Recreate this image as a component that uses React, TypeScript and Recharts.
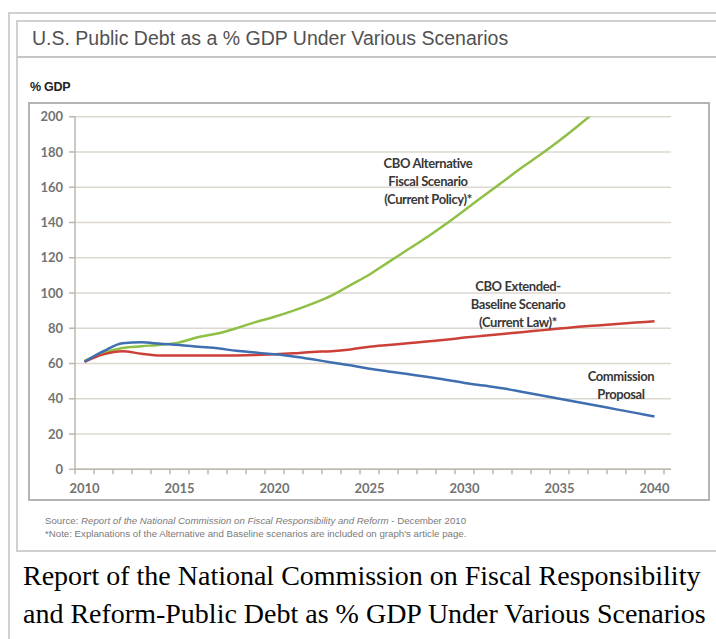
import React from "react";
import { LineChart, Line, XAxis, YAxis, CartesianGrid } from "recharts";

// years on the x axis, one point per year
const YEARS = [
  2010, 2011, 2012, 2013, 2014, 2015, 2016, 2017, 2018, 2019, 2020, 2021,
  2022, 2023, 2024, 2025, 2026, 2027, 2028, 2029, 2030, 2031, 2032, 2033,
  2034, 2035, 2036, 2037, 2038, 2039, 2040,
];

// CBO Alternative Fiscal Scenario (Current Policy) - runs off the top after 2036
const ALTERNATIVE = [
  61.5, 66, 68.8, 69.8, 70.7, 72, 75, 77, 80, 83.5, 86.5, 90, 94, 98.5, 104.5,
  110.5, 117.5, 124.5, 131.5, 139, 147, 155, 163, 171, 178.5, 186.5, 195, 204,
  null, null, null,
];

// CBO Extended-Baseline Scenario (Current Law)
const BASELINE = [
  61, 65.2, 67, 65.5, 64.5, 64.5, 64.5, 64.5, 64.6, 64.8, 65.2, 65.8, 66.6, 67,
  68, 69.5, 70.5, 71.5, 72.5, 73.5, 74.7, 75.7, 76.7, 77.8, 78.8, 79.8, 80.8,
  81.6, 82.4, 83.2, 84,
];

// Commission Proposal
const PROPOSAL = [
  61, 67, 71.5, 72, 71.2, 70.5, 69.5, 68.6, 67.2, 66.2, 65.2, 64, 62.4, 60.6,
  59, 57, 55.5, 54, 52.5, 50.8, 49, 47.5, 46, 44, 42, 40, 38, 36, 34, 32, 30,
];

const Y_TICKS = [0, 20, 40, 60, 80, 100, 120, 140, 160, 180, 200];

const data = YEARS.map((year, i) => ({
  year,
  alt: ALTERNATIVE[i],
  base: BASELINE[i],
  prop: PROPOSAL[i],
}));

// chart box geometry
const CHART_W = 678;
const CHART_H = 395;
const Y_AXIS_W = 46;
const X_AXIS_H = 28.7;
const MARGIN = { top: 13.7, right: 36, bottom: 0, left: 0 };
const PAD_RIGHT = 7;
const HALF_STEP =
  (CHART_W - MARGIN.right - Y_AXIS_W - PAD_RIGHT) / YEARS.length / 2;

const AXIS_COLOR = "#bdb6ab";
const GRID_COLOR = "#dcd7cf";
const TICK_FILL = "#737373";
const LABEL_FONT = "Lato, 'Open Sans', sans-serif";
const SANS = "'Liberation Sans', Arial, sans-serif";
const SERIF = "'Liberation Serif', 'Times New Roman', serif";

const YearTick = (props: any) => {
  const { x, y, payload, index } = props;
  const year = payload.value;
  const last = index === YEARS.length - 1;
  return (
    <g>
      <line x1={x - HALF_STEP} x2={x - HALF_STEP} y1={y} y2={y + 5} stroke={AXIS_COLOR} strokeWidth={1.5} />
      {last && (
        <line x1={x + HALF_STEP} x2={x + HALF_STEP} y1={y} y2={y + 5} stroke={AXIS_COLOR} strokeWidth={1.5} />
      )}
      {year % 5 === 0 && (
        <text
          x={x}
          y={y + 24}
          textAnchor="middle"
          fontSize={13}
          fontWeight={700}
          fontFamily={LABEL_FONT}
          fill={TICK_FILL}
        >
          {year}
        </text>
      )}
    </g>
  );
};

const Note = ({ x, y, lines }: { x: number; y: number; lines: string[] }) => (
  <text
    x={x}
    y={y}
    textAnchor="middle"
    fontSize={13}
    fontWeight={700}
    fontFamily={LABEL_FONT}
    fill="#383838"
    letterSpacing={-0.4}
  >
    {lines.map((l, i) => (
      <tspan key={i} x={x} dy={i === 0 ? 0 : 18}>
        {l}
      </tspan>
    ))}
  </text>
);

export default function App() {
  return (
    <div
      style={{
        position: "absolute",
        left: 0,
        top: 0,
        width: 716,
        height: 639,
        overflow: "hidden",
        background: "#fff",
      }}
    >
      {/* outer frames */}
      <div style={{ position: "absolute", left: 8, top: 12, width: 740, height: 700, border: "2px solid #d0d0d0" }} />
      <div style={{ position: "absolute", left: 16, top: 20, width: 740, height: 528, border: "2px solid #d0d0d0" }} />
      <div style={{ position: "absolute", left: 17, top: 56, width: 720, height: 2, background: "#c6c6c6" }} />
      {/* chart frame */}
      <div style={{ position: "absolute", left: 28, top: 102, width: 678, height: 395, border: "2px solid #b4b4b4" }} />

      <div style={{ position: "absolute", left: 29, top: 103 }}>
        <LineChart width={CHART_W} height={CHART_H} data={data} margin={MARGIN}>
          <CartesianGrid vertical={false} stroke={GRID_COLOR} strokeWidth={1.5} />
          <XAxis
            dataKey="year"
            type="number"
            domain={[2009.5, 2040.5]}
            ticks={YEARS}
            interval={0}
            padding={{ left: 0, right: PAD_RIGHT }}
            height={X_AXIS_H}
            tickLine={false}
            tickSize={0}
            tickMargin={0}
            tick={<YearTick />}
            axisLine={{ stroke: AXIS_COLOR, strokeWidth: 1.5 }}
          />
          <YAxis
            type="number"
            domain={[0, 200]}
            ticks={Y_TICKS}
            allowDataOverflow
            width={Y_AXIS_W}
            tickSize={6}
            tickMargin={6}
            tickLine={{ stroke: AXIS_COLOR, strokeWidth: 1.5 }}
            axisLine={{ stroke: AXIS_COLOR, strokeWidth: 1.5 }}
            tick={{ fontSize: 13, fontWeight: 700, fill: TICK_FILL, fontFamily: LABEL_FONT }}
          />
          <Line
            dataKey="alt"
            type="monotone"
            stroke="#8fc045"
            strokeWidth={2.5}
            dot={false}
            isAnimationActive={false}
          />
          <Line
            dataKey="base"
            type="monotone"
            stroke="#cc4038"
            strokeWidth={2.5}
            dot={false}
            isAnimationActive={false}
          />
          <Line
            dataKey="prop"
            type="monotone"
            stroke="#3f6fb0"
            strokeWidth={2.5}
            dot={false}
            isAnimationActive={false}
          />
        </LineChart>
      </div>

      <svg
        width={716}
        height={639}
        style={{ position: "absolute", left: 0, top: 0, pointerEvents: "none" }}
      >
        <text x={32} y={45} fontSize={19.5} fontFamily={SANS} fill="#525252">
          U.S. Public Debt as a % GDP Under Various Scenarios
        </text>
        <text x={30} y={91} fontSize={12.5} fontWeight={700} fontFamily={SANS} fill="#222" letterSpacing={-0.3}>
          % GDP
        </text>

        <Note x={428} y={168} lines={["CBO Alternative", "Fiscal Scenario", "(Current Policy)*"]} />
        <Note x={518} y={291} lines={["CBO Extended-", "Baseline Scenario", "(Current Law)*"]} />
        <Note x={621} y={381} lines={["Commission", "Proposal"]} />

        <text x={45} y={524} fontSize={9.7} fontFamily={SANS} fill="#7a7a7a">
          Source:{" "}
          <tspan fontStyle="italic">Report of the National Commission on Fiscal Responsibility and Reform</tspan>
          {" - December 2010"}
        </text>
        <text x={45} y={537} fontSize={9.7} fontFamily={SANS} fill="#7a7a7a">
          *Note: Explanations of the Alternative and Baseline scenarios are included on graph's article page.
        </text>

        <text x={23} y={585} fontSize={28} fontFamily={SERIF} fill="#000">
          Report of the National Commission on Fiscal Responsibility
        </text>
        <text x={23} y={623} fontSize={28} fontFamily={SERIF} fill="#000">
          and Reform-Public Debt as % GDP Under Various Scenarios
        </text>
      </svg>
    </div>
  );
}
